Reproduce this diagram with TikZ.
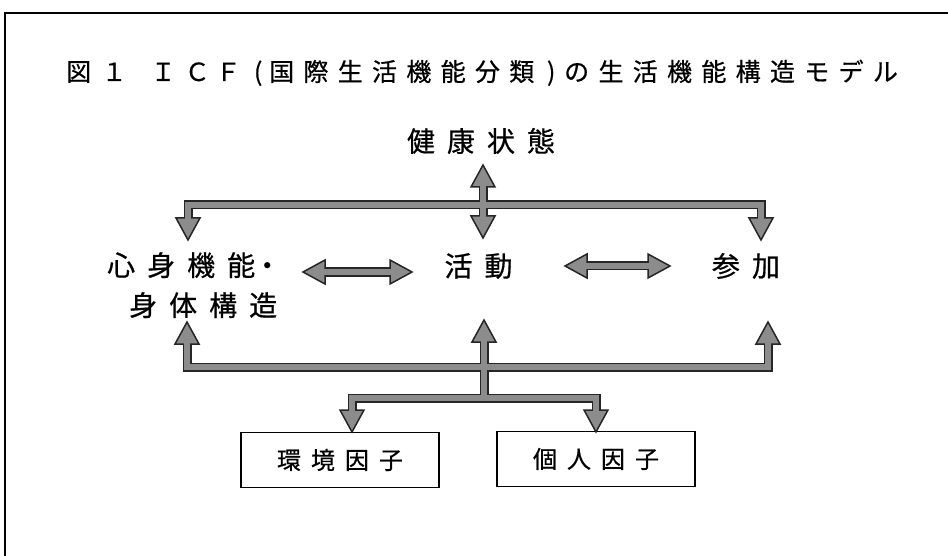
\documentclass[tikz,border=0pt]{standalone}
\usepackage{fontspec}
\newfontfamily\jp[FakeBold=0.6]{Noto Sans CJK JP}
\def\spcEND{spcEND}
\newcommand\spc[2]{\def\spcgap{#1}\spcfirst#2\spcEND}
\def\spcfirst#1{#1\spcloop}
\def\spcloop#1{\ifx#1\spcEND\else\hspace{\spcgap}#1\expandafter\spcloop\fi}
\newcommand\tc[2]{\makebox[0pt][c]{#2}\hspace{#1pt}}
\tikzset{
  lbl/.style={inner sep=0pt, font=\jp\fontsize{28}{40}\selectfont},
  ttl/.style={inner sep=0pt, font=\jp\fontsize{25}{30}\selectfont},
  boxn/.style={draw, line width=1.2pt, minimum width=198pt, minimum height=55pt, inner sep=0pt, font=\jp\fontsize{24}{28}\selectfont},
  shaftout/.style={line width=9pt, draw=black!85, line join=miter},
  shaftin/.style={line width=6pt, draw=black!45, line join=miter},
  headst/.style={fill=black!45, draw=black!85, line width=1.5pt, line join=miter},
  frame/.style={line width=1.6pt},
  ahead/.pic={\path[headst] (0,0) -- (-22,-12) -- (-22,12) -- cycle;}
}
\begin{document}
\begin{tikzpicture}[x=1pt,y=-1pt]
\useasboundingbox (0,0) rectangle (948,556);
\draw[frame] (5,556) -- (5,13) -- (948,13);
% nodes
\node[ttl, anchor=base west] (title) at (78.5,81) {\tc{35.5}{図}\tc{49}{１}\tc{34}{Ｉ}\tc{31}{Ｃ}\tc{30}{Ｆ}\tc{23.5}{(}%
\tc{34.3}{国}\tc{34.3}{際}\tc{34.3}{生}\tc{34.3}{活}\tc{34.3}{機}\tc{34.3}{能}\tc{34.3}{分}\tc{29.4}{類}\tc{25.5}{)}%
\tc{34.3}{の}\tc{34.3}{生}\tc{34.3}{活}\tc{34.3}{機}\tc{34.3}{能}\tc{34.3}{構}\tc{34.3}{造}\tc{34.3}{モ}\tc{34.3}{デ}\tc{0}{ル}};
\node[lbl] (health) at (481,141) {\spc{12pt}{健康状態}};
\node[lbl] (act) at (478.5,266) {\spc{12pt}{活動}};
\node[lbl] (part) at (746,266) {\spc{12pt}{参加}};
\node[lbl, align=left, anchor=north west] (body) at (107,252) {\spc{12pt}{心身機能}\hspace{-2pt}・\\\hspace{22pt}\spc{12pt}{身体構造}};
\node[boxn] (env) at (340,460) {\spc{10pt}{環境因子}};
\node[boxn] (pers) at (596,459) {\spc{10pt}{個人因子}};
% tips
\coordinate (hUp) at (483,165);
\coordinate (hDn) at (483,238);
\coordinate (bDnT) at (188,240);
\coordinate (pDnT) at (761,240);
\coordinate (lL) at (303,272);
\coordinate (lR) at (412,272);
\coordinate (rL) at (565,266);
\coordinate (rR) at (670,266);
\coordinate (bUp) at (187,322);
\coordinate (aUp) at (484,320);
\coordinate (pUp) at (768,322);
\coordinate (eDn) at (352,432);
\coordinate (iDn) at (596,432);
% shaft ends and corners
\coordinate (s1a) at (483,181);
\coordinate (s1b) at (483,222);
\coordinate (s2a) at (188,224);
\coordinate (s2b) at (188,205);
\coordinate (s2c) at (761,205);
\coordinate (s2d) at (761,224);
\coordinate (s3a) at (319,272);
\coordinate (s3b) at (396,272);
\coordinate (s4a) at (581,266);
\coordinate (s4b) at (654,266);
\coordinate (s5a) at (187,338);
\coordinate (s5b) at (187,367);
\coordinate (s5c) at (768,367);
\coordinate (s5d) at (768,338);
\coordinate (s6a) at (484,336);
\coordinate (s6b) at (484,398);
\coordinate (s7a) at (352,416);
\coordinate (s7b) at (352,398);
\coordinate (s7c) at (596,398);
\coordinate (s7d) at (596,416);
\newcommand\shafts[1]{%
  \draw[#1] (s1a) -- (s1b);
  \draw[#1] (s2a) -- (s2b) -- (s2c) -- (s2d);
  \draw[#1] (s3a) -- (s3b);
  \draw[#1] (s4a) -- (s4b);
  \draw[#1] (s5a) -- (s5b) -- (s5c) -- (s5d);
  \draw[#1] (s6a) -- (s6b);
  \draw[#1] (s7a) -- (s7b) -- (s7c) -- (s7d);
}
\shafts{shaftout}
\pic[rotate=90] at (hUp) {ahead};
\pic[rotate=-90] at (hDn) {ahead};
\pic[rotate=-90] at (bDnT) {ahead};
\pic[rotate=-90] at (pDnT) {ahead};
\pic[rotate=180] at (lL) {ahead};
\pic at (lR) {ahead};
\pic[rotate=180] at (rL) {ahead};
\pic at (rR) {ahead};
\pic[rotate=90] at (bUp) {ahead};
\pic[rotate=90] at (aUp) {ahead};
\pic[rotate=90] at (pUp) {ahead};
\pic[rotate=-90] at (eDn) {ahead};
\pic[rotate=-90] at (iDn) {ahead};
\shafts{shaftin}
\end{tikzpicture}
\end{document}
